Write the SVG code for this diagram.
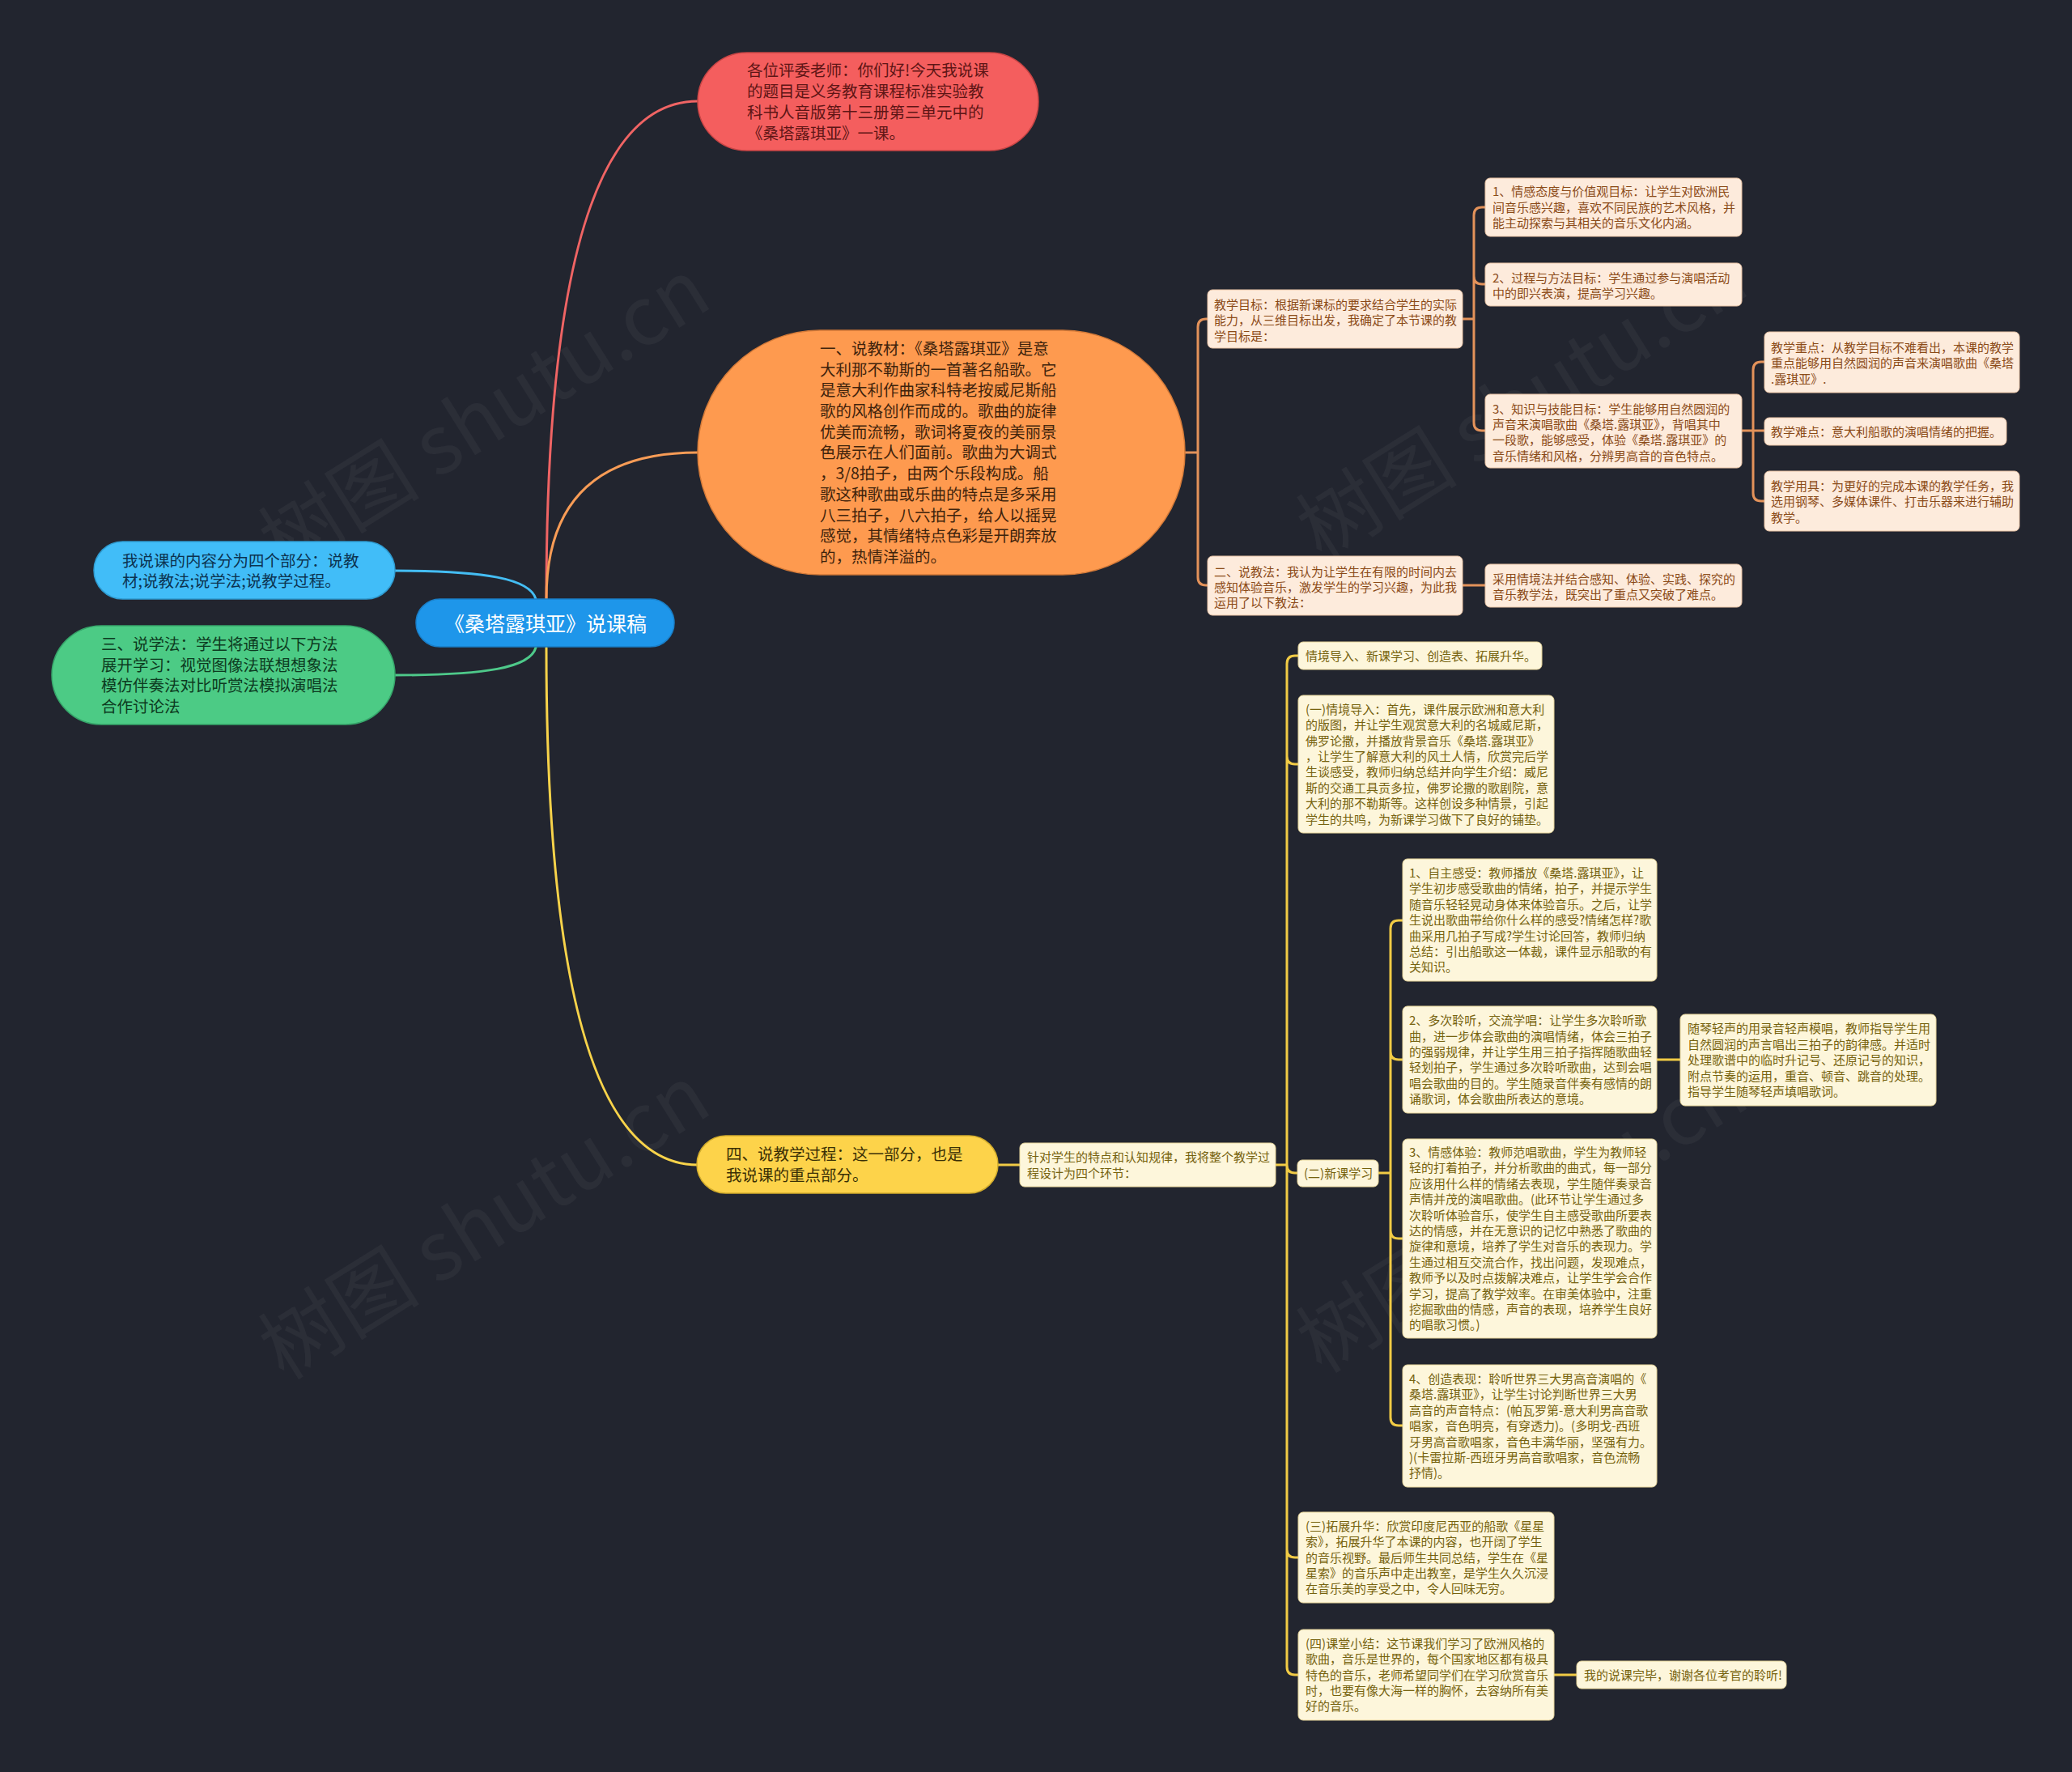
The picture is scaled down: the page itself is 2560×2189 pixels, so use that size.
<svg xmlns="http://www.w3.org/2000/svg" width="2560" height="2189" viewBox="0 0 2560 2189">
<style>
text{font-family:"Noto Sans CJK SC","Noto Sans",sans-serif}
.wm{font-size:100px;fill:#ffffff;fill-opacity:0.045}
.big{font-size:19.5px}
.sm{font-size:15px}
.ob rect{fill:#fdebdc;stroke:#e9c4a6;stroke-width:1}
.ob text{fill:#8b4a17}
.yb rect{fill:#fdf6db;stroke:#e6d59a;stroke-width:1}
.yb text{fill:#76620e}
.cn{fill:none;stroke-width:3;stroke-linecap:round;stroke-linejoin:round}
</style>
<rect width="2560" height="2189" fill="#22252f"/>
<g id="watermarks">
<text class="wm" transform="translate(351,710) rotate(-32)">树图 shutu.cn</text>
<text class="wm" transform="translate(1633,694) rotate(-32)">树图 shutu.cn</text>
<text class="wm" transform="translate(351,1706) rotate(-32)">树图 shutu.cn</text>
<text class="wm" transform="translate(1633,1698) rotate(-32)">树图 shutu.cn</text>
</g>
<g id="connectors">
<path class="cn" stroke="#f06464" d="M675,740 Q675,125 862,125"/>
<path class="cn" stroke="#f89c56" d="M675,740 Q675,559 862,559"/>
<path class="cn" stroke="#f8d34a" d="M675,800 Q675,1439 862,1439"/>
<path class="cn" stroke="#44bdf3" d="M487,705 C600,705 655,715 662,740"/>
<path class="cn" stroke="#4ec98a" d="M487,834 C600,834 655,825 662,800"/>
<g stroke="#e3925a">
<path class="cn" d="M1464,559 H1480 M1492,394 H1490 Q1480,394 1480,404 V713 Q1480,723 1490,723 H1492"/>
<path class="cn" d="M1807,394 H1821 M1835,256 H1831 Q1821,256 1821,266 V522 Q1821,532 1831,532 H1835 M1821,341 Q1821,351 1831,351 H1835"/>
<path class="cn" d="M1807,723 H1835"/>
<path class="cn" d="M2152,532 H2180 M2180,447 H2176 Q2166,447 2166,457 V609 Q2166,619 2176,619 H2180"/>
</g>
<g stroke="#f1cb45">
<path class="cn" d="M1233,1439 H1260"/>
<path class="cn" d="M1576,1439 H1590 M1604,810 H1600 Q1590,810 1590,820 V2059 Q1590,2069 1600,2069 H1604 M1590,934 Q1590,944 1600,944 H1604 M1590,1439 Q1590,1449 1600,1449 H1603 M1590,1914 Q1590,1924 1600,1924 H1604"/>
<path class="cn" d="M1703,1449 H1718 M1733,1137 H1728 Q1718,1137 1718,1147 V1751 Q1718,1761 1728,1761 H1733 M1718,1299 Q1718,1309 1728,1309 H1733 M1718,1520 Q1718,1530 1728,1530 H1733"/>
<path class="cn" d="M2047,1309 H2076"/>
<path class="cn" d="M1920,2069 H1948"/>
</g>
</g>
<g id="root">
<rect x="514" y="740" width="319" height="59" rx="29.5" fill="#1e96ea" stroke="#1a7fc8" stroke-width="1.5"/>
<text x="674" y="779.5" text-anchor="middle" font-size="25" fill="#ffffff">《桑塔露琪亚》说课稿</text>
</g>
<g id="n-intro">
<rect x="862" y="65" width="421" height="121" rx="60.5" fill="#f45e5e" stroke="#c94545" stroke-width="1.5"/>
<text class="big" fill="#5e1515"><tspan x="923" y="94">各位评委老师：你们好!今天我说课</tspan><tspan x="923" y="120">的题目是义务教育课程标准实验教</tspan><tspan x="923" y="146">科书人音版第十三册第三单元中的</tspan><tspan x="923" y="172">《桑塔露琪亚》一课。</tspan></text>
</g>
<g id="n-material">
<rect x="862" y="408" width="602" height="302" rx="151" fill="#fe9a4f" stroke="#d47a38" stroke-width="1.5"/>
<text class="big" fill="#3e230c"><tspan x="1013" y="438">一、说教材：《桑塔露琪亚》是意</tspan><tspan x="1013" y="464">大利那不勒斯的一首著名船歌。它</tspan><tspan x="1013" y="489">是意大利作曲家科特老按威尼斯船</tspan><tspan x="1013" y="515">歌的风格创作而成的。歌曲的旋律</tspan><tspan x="1013" y="541">优美而流畅，歌词将夏夜的美丽景</tspan><tspan x="1013" y="566">色展示在人们面前。歌曲为大调式</tspan><tspan x="1013" y="592">，3/8拍子，由两个乐段构成。船</tspan><tspan x="1013" y="618">歌这种歌曲或乐曲的特点是多采用</tspan><tspan x="1013" y="644">八三拍子，八六拍子，给人以摇晃</tspan><tspan x="1013" y="669">感觉，其情绪特点色彩是开朗奔放</tspan><tspan x="1013" y="695">的，热情洋溢的。</tspan></text>
</g>
<g id="n-parts">
<rect x="116" y="669" width="372" height="71" rx="35.5" fill="#41bdf8" stroke="#2f9bd0" stroke-width="1.5"/>
<text class="big" fill="#0c3350"><tspan x="151" y="700">我说课的内容分为四个部分：说教</tspan><tspan x="151" y="725">材;说教法;说学法;说教学过程。</tspan></text>
</g>
<g id="n-learn">
<rect x="64" y="773" width="424" height="122" rx="61" fill="#4ccb85" stroke="#36a56a" stroke-width="1.5"/>
<text class="big" fill="#0c3a20"><tspan x="125" y="803">三、说学法：学生将通过以下方法</tspan><tspan x="125" y="829">展开学习：视觉图像法联想想象法</tspan><tspan x="125" y="854">模仿伴奏法对比听赏法模拟演唱法</tspan><tspan x="125" y="880">合作讨论法</tspan></text>
</g>
<g id="n-process">
<rect x="861" y="1403" width="372" height="71" rx="35.5" fill="#fdd34a" stroke="#d2ac2c" stroke-width="1.5"/>
<text class="big" fill="#3a2f05"><tspan x="897" y="1433">四、说教学过程：这一部分，也是</tspan><tspan x="897" y="1459">我说课的重点部分。</tspan></text>
</g>
<g id="n-goal" class="ob">
<rect x="1492" y="358" width="315" height="72" rx="6"/>
<text class="sm"><tspan x="1500" y="382">教学目标：根据新课标的要求结合学生的实际</tspan><tspan x="1500" y="401">能力，从三维目标出发，我确定了本节课的教</tspan><tspan x="1500" y="421">学目标是：</tspan></text>
</g>
<g id="n-method" class="ob">
<rect x="1492" y="687" width="315" height="73" rx="6"/>
<text class="sm"><tspan x="1500" y="712">二、说教法：我认为让学生在有限的时间内去</tspan><tspan x="1500" y="731">感知体验音乐，激发学生的学习兴趣，为此我</tspan><tspan x="1500" y="750">运用了以下教法：</tspan></text>
</g>
<g id="n-goal1" class="ob">
<rect x="1835" y="220" width="317" height="72" rx="6"/>
<text class="sm"><tspan x="1844" y="242">1、情感态度与价值观目标：让学生对欧洲民</tspan><tspan x="1844" y="262">间音乐感兴趣，喜欢不同民族的艺术风格，并</tspan><tspan x="1844" y="281">能主动探索与其相关的音乐文化内涵。</tspan></text>
</g>
<g id="n-goal2" class="ob">
<rect x="1835" y="325" width="317" height="53" rx="6"/>
<text class="sm"><tspan x="1844" y="349">2、过程与方法目标：学生通过参与演唱活动</tspan><tspan x="1844" y="368">中的即兴表演，提高学习兴趣。</tspan></text>
</g>
<g id="n-goal3" class="ob">
<rect x="1835" y="487" width="317" height="91" rx="6"/>
<text class="sm"><tspan x="1844" y="511">3、知识与技能目标：学生能够用自然圆润的</tspan><tspan x="1844" y="530">声音来演唱歌曲《桑塔.露琪亚》，背唱其中</tspan><tspan x="1844" y="549">一段歌，能够感受，体验《桑塔.露琪亚》的</tspan><tspan x="1844" y="569">音乐情绪和风格，分辨男高音的音色特点。</tspan></text>
</g>
<g id="n-method1" class="ob">
<rect x="1835" y="697" width="317" height="53" rx="6"/>
<text class="sm"><tspan x="1844" y="721">采用情境法并结合感知、体验、实践、探究的</tspan><tspan x="1844" y="740">音乐教学法，既突出了重点又突破了难点。</tspan></text>
</g>
<g id="n-key" class="ob">
<rect x="2180" y="410" width="315" height="75" rx="6"/>
<text class="sm"><tspan x="2188" y="435">教学重点：从教学目标不难看出，本课的教学</tspan><tspan x="2188" y="454">重点能够用自然圆润的声音来演唱歌曲《桑塔</tspan><tspan x="2188" y="474">.露琪亚》.</tspan></text>
</g>
<g id="n-hard" class="ob">
<rect x="2180" y="516" width="299" height="34" rx="6"/>
<text class="sm" x="2188" y="539">教学难点：意大利船歌的演唱情绪的把握。</text>
</g>
<g id="n-tools" class="ob">
<rect x="2180" y="582" width="315" height="74" rx="6"/>
<text class="sm"><tspan x="2188" y="606">教学用具：为更好的完成本课的教学任务，我</tspan><tspan x="2188" y="625">选用钢琴、多媒体课件、打击乐器来进行辅助</tspan><tspan x="2188" y="645">教学。</tspan></text>
</g>
<g id="n-design" class="yb">
<rect x="1260" y="1412" width="316" height="54" rx="6"/>
<text class="sm"><tspan x="1269" y="1435">针对学生的特点和认知规律，我将整个教学过</tspan><tspan x="1269" y="1455">程设计为四个环节：</tspan></text>
</g>
<g id="n-steps" class="yb">
<rect x="1604" y="793" width="301" height="34" rx="6"/>
<text class="sm" x="1613" y="816">情境导入、新课学习、创造表、拓展升华。</text>
</g>
<g id="n-step1" class="yb">
<rect x="1604" y="859" width="316" height="170" rx="6"/>
<text class="sm"><tspan x="1613" y="882">(一)情境导入：首先，课件展示欧洲和意大利</tspan><tspan x="1613" y="901">的版图，并让学生观赏意大利的名城威尼斯，</tspan><tspan x="1613" y="921">佛罗论撒，并播放背景音乐《桑塔.露琪亚》</tspan><tspan x="1613" y="940">，让学生了解意大利的风土人情，欣赏完后学</tspan><tspan x="1613" y="959">生谈感受，教师归纳总结并向学生介绍：威尼</tspan><tspan x="1613" y="979">斯的交通工具贡多拉，佛罗论撒的歌剧院，意</tspan><tspan x="1613" y="998">大利的那不勒斯等。这样创设多种情景，引起</tspan><tspan x="1613" y="1018">学生的共鸣，为新课学习做下了良好的铺垫。</tspan></text>
</g>
<g id="n-step2" class="yb">
<rect x="1603" y="1433" width="100" height="33" rx="6"/>
<text class="sm" x="1611" y="1455">(二)新课学习</text>
</g>
<g id="n-s2a" class="yb">
<rect x="1733" y="1061" width="314" height="151" rx="6"/>
<text class="sm"><tspan x="1741" y="1084">1、自主感受：教师播放《桑塔.露琪亚》，让</tspan><tspan x="1741" y="1103">学生初步感受歌曲的情绪，拍子，并提示学生</tspan><tspan x="1741" y="1123">随音乐轻轻晃动身体来体验音乐。之后，让学</tspan><tspan x="1741" y="1142">生说出歌曲带给你什么样的感受?情绪怎样?歌</tspan><tspan x="1741" y="1162">曲采用几拍子写成?学生讨论回答，教师归纳</tspan><tspan x="1741" y="1181">总结：引出船歌这一体裁，课件显示船歌的有</tspan><tspan x="1741" y="1200">关知识。</tspan></text>
</g>
<g id="n-s2b" class="yb">
<rect x="1733" y="1243" width="314" height="132" rx="6"/>
<text class="sm"><tspan x="1741" y="1266">2、多次聆听，交流学唱：让学生多次聆听歌</tspan><tspan x="1741" y="1286">曲，进一步体会歌曲的演唱情绪，体会三拍子</tspan><tspan x="1741" y="1305">的强弱规律，并让学生用三拍子指挥随歌曲轻</tspan><tspan x="1741" y="1324">轻划拍子，学生通过多次聆听歌曲，达到会唱</tspan><tspan x="1741" y="1344">唱会歌曲的目的。学生随录音伴奏有感情的朗</tspan><tspan x="1741" y="1363">诵歌词，体会歌曲所表达的意境。</tspan></text>
</g>
<g id="n-s2b1" class="yb">
<rect x="2076" y="1253" width="316" height="113" rx="6"/>
<text class="sm"><tspan x="2085" y="1276">随琴轻声的用录音轻声模唱，教师指导学生用</tspan><tspan x="2085" y="1296">自然圆润的声言唱出三拍子的韵律感。并适时</tspan><tspan x="2085" y="1315">处理歌谱中的临时升记号、还原记号的知识，</tspan><tspan x="2085" y="1335">附点节奏的运用，重音、顿音、跳音的处理。</tspan><tspan x="2085" y="1354">指导学生随琴轻声填唱歌词。</tspan></text>
</g>
<g id="n-s2c" class="yb">
<rect x="1733" y="1407" width="314" height="246" rx="6"/>
<text class="sm"><tspan x="1741" y="1429">3、情感体验：教师范唱歌曲，学生为教师轻</tspan><tspan x="1741" y="1448">轻的打着拍子，并分析歌曲的曲式，每一部分</tspan><tspan x="1741" y="1468">应该用什么样的情绪去表现，学生随伴奏录音</tspan><tspan x="1741" y="1487">声情并茂的演唱歌曲。(此环节让学生通过多</tspan><tspan x="1741" y="1507">次聆听体验音乐，使学生自主感受歌曲所要表</tspan><tspan x="1741" y="1526">达的情感，并在无意识的记忆中熟悉了歌曲的</tspan><tspan x="1741" y="1545">旋律和意境，培养了学生对音乐的表现力。学</tspan><tspan x="1741" y="1565">生通过相互交流合作，找出问题，发现难点，</tspan><tspan x="1741" y="1584">教师予以及时点拨解决难点，让学生学会合作</tspan><tspan x="1741" y="1604">学习，提高了教学效率。在审美体验中，注重</tspan><tspan x="1741" y="1623">挖掘歌曲的情感，声音的表现，培养学生良好</tspan><tspan x="1741" y="1642">的唱歌习惯。)</tspan></text>
</g>
<g id="n-s2d" class="yb">
<rect x="1733" y="1686" width="314" height="151" rx="6"/>
<text class="sm"><tspan x="1741" y="1709">4、创造表现：聆听世界三大男高音演唱的《</tspan><tspan x="1741" y="1728">桑塔.露琪亚》，让学生讨论判断世界三大男</tspan><tspan x="1741" y="1748">高音的声音特点：(帕瓦罗第-意大利男高音歌</tspan><tspan x="1741" y="1767">唱家，音色明亮，有穿透力)。(多明戈-西班</tspan><tspan x="1741" y="1787">牙男高音歌唱家，音色丰满华丽，坚强有力。</tspan><tspan x="1741" y="1806">)(卡雷拉斯-西班牙男高音歌唱家，音色流畅</tspan><tspan x="1741" y="1825">抒情)。</tspan></text>
</g>
<g id="n-step3" class="yb">
<rect x="1604" y="1868" width="316" height="112" rx="6"/>
<text class="sm"><tspan x="1613" y="1891">(三)拓展升华：欣赏印度尼西亚的船歌《星星</tspan><tspan x="1613" y="1910">索》，拓展升华了本课的内容，也开阔了学生</tspan><tspan x="1613" y="1930">的音乐视野。最后师生共同总结，学生在《星</tspan><tspan x="1613" y="1949">星索》的音乐声中走出教室，是学生久久沉浸</tspan><tspan x="1613" y="1968">在音乐美的享受之中，令人回味无穷。</tspan></text>
</g>
<g id="n-step4" class="yb">
<rect x="1604" y="2013" width="316" height="112" rx="6"/>
<text class="sm"><tspan x="1613" y="2036">(四)课堂小结：这节课我们学习了欧洲风格的</tspan><tspan x="1613" y="2055">歌曲，音乐是世界的，每个国家地区都有极具</tspan><tspan x="1613" y="2075">特色的音乐，老师希望同学们在学习欣赏音乐</tspan><tspan x="1613" y="2094">时，也要有像大海一样的胸怀，去容纳所有美</tspan><tspan x="1613" y="2113">好的音乐。</tspan></text>
</g>
<g id="n-end" class="yb">
<rect x="1948" y="2052" width="259" height="34" rx="6"/>
<text class="sm" x="1957" y="2075">我的说课完毕，谢谢各位考官的聆听!</text>
</g>
</svg>
